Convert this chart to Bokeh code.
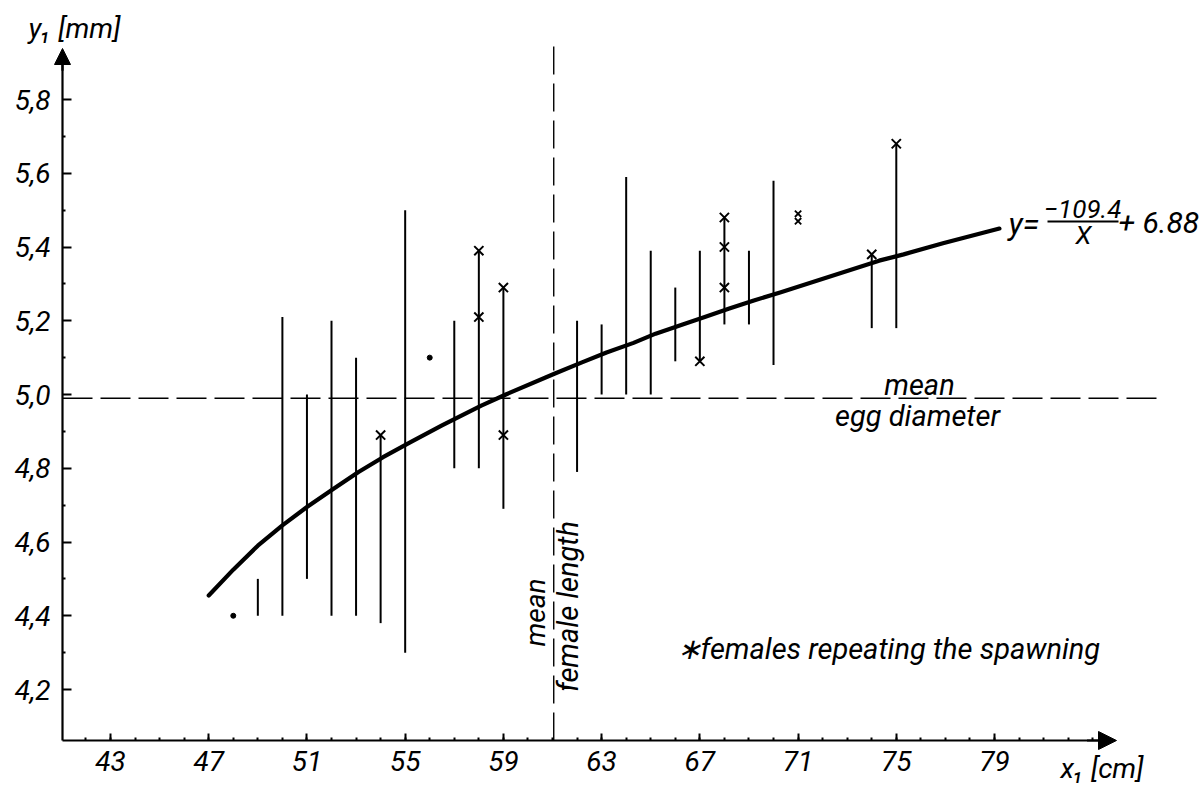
import numpy as np
from bokeh.plotting import figure
from bokeh.models import FixedTicker, Arrow, NormalHead, Label
from bokeh.embed import file_html
from bokeh.resources import INLINE

# ---------------- data ----------------
# vertical ranges of egg diameter for each female length class
range_x = [49, 50, 51, 52, 53, 54, 55, 57, 58, 59, 62, 63, 64, 65, 66, 67, 68, 69, 70, 74, 75]
range_low = [4.40, 4.40, 4.50, 4.40, 4.40, 4.38, 4.30, 4.80, 4.80, 4.69, 4.79,
             5.00, 5.00, 5.00, 5.09, 5.09, 5.19, 5.19, 5.08, 5.18, 5.18]
range_high = [4.50, 5.21, 5.00, 5.20, 5.10, 4.89, 5.50, 5.20, 5.39, 5.29, 5.20,
              5.19, 5.59, 5.39, 5.29, 5.39, 5.48, 5.39, 5.58, 5.38, 5.68]

# females repeating the spawning (x marks)
repeat_x = [54, 58, 58, 59, 59, 67, 68, 68, 68, 74, 75]
repeat_y = [4.89, 5.39, 5.21, 5.29, 4.89, 5.09, 5.48, 5.40, 5.29, 5.38, 5.68]
repeat_small_x = [71, 71]
repeat_small_y = [5.49, 5.47]

# single observations (dots)
single_x = [48, 56]
single_y = [4.40, 5.10]

# fitted curve y = -109.4/x + 6.88 as drawn
curve_x = [47.0, 48.0, 49.0, 50.0, 51.0, 52.1, 53.1, 54.1, 55.2, 56.5, 58.1, 59.1, 61.1,
           62.2, 63.2, 64.3, 65.2, 66.3, 67.2, 68.2, 69.2, 70.3, 74.3, 75.3, 76.9, 79.2]
curve_y = [4.455, 4.525, 4.59, 4.645, 4.695, 4.745, 4.79, 4.83, 4.87, 4.916, 4.97, 5.00, 5.057,
           5.087, 5.114, 5.14, 5.165, 5.19, 5.21, 5.233, 5.255, 5.277, 5.363, 5.38, 5.41, 5.45]

mean_egg_diameter = 4.99
mean_female_length = 61.05

x_ticks = [43, 47, 51, 55, 59, 63, 67, 71, 75, 79]
x_minor = list(range(42, 84))
y_ticks = [4.2, 4.4, 4.6, 4.8, 5.0, 5.2, 5.4, 5.6, 5.8]
y_tick_labels = ["4,2", "4,4", "4,6", "4,8", "5,0", "5,2", "5,4", "5,6", "5,8"]
y_minor = [4.3, 4.5, 4.7, 4.9, 5.1, 5.3, 5.5, 5.7]

# ---------------- figure ----------------
FONT = "Roboto"
W, H = 1202, 790


def px_x(px):
    return 43 + (px - 110) / 24.556


def px_y(py):
    return 5.8 - (py - 99) / 368.75


X0, X1 = px_x(0), px_x(W)
Y0, Y1 = px_y(H), px_y(0)
AX_X = px_x(62)      # y axis position
AX_Y = px_y(740)     # x axis position
X_AXIS_END = px_x(1116)
Y_AXIS_END = px_y(48)

p = figure(width=W, height=H, x_range=(X0, X1), y_range=(Y0, Y1),
           output_backend="svg", toolbar_location=None, title=None,
           min_border=0, min_border_left=0, min_border_right=0,
           min_border_top=0, min_border_bottom=0)
p.outline_line_color = None
p.grid.visible = False
p.background_fill_color = "white"
p.border_fill_color = "white"

for ax in (p.xaxis[0], p.yaxis[0]):
    ax.axis_line_width = 2.2
    ax.axis_line_color = "black"
    ax.major_tick_line_width = 2
    ax.major_tick_line_color = "black"
    ax.minor_tick_line_width = 2
    ax.minor_tick_line_color = "black"
    ax.major_tick_out = 0
    ax.minor_tick_out = 0
    ax.major_label_text_font = FONT
    ax.major_label_text_font_style = "italic"
    ax.major_label_text_font_size = "28px"
    ax.major_label_text_color = "black"

p.xaxis.fixed_location = AX_Y
p.xaxis.ticker = FixedTicker(ticks=x_ticks, minor_ticks=x_minor)
p.xaxis.bounds = (AX_X, X_AXIS_END - 0.6)
p.xaxis.major_tick_in = 7
p.xaxis.minor_tick_in = 3
p.xaxis.major_label_standoff = 10

p.yaxis.fixed_location = AX_X
p.yaxis.ticker = FixedTicker(ticks=y_ticks, minor_ticks=y_minor)
p.yaxis.bounds = (AX_Y, Y_AXIS_END - 0.04)
p.yaxis.major_tick_in = 9
p.yaxis.minor_tick_in = 3
p.yaxis.major_label_standoff = 12
p.yaxis.major_label_overrides = dict(zip(y_ticks, y_tick_labels))

# axis arrow heads
p.add_layout(Arrow(end=NormalHead(size=16, fill_color="black", line_color="black", line_width=1),
                   x_start=AX_X, y_start=Y_AXIS_END - 0.06, x_end=AX_X, y_end=Y_AXIS_END,
                   line_width=2.2, line_color="black"))
p.add_layout(Arrow(end=NormalHead(size=18, fill_color="black", line_color="black", line_width=1),
                   x_start=X_AXIS_END - 1.2, y_start=AX_Y, x_end=X_AXIS_END, y_end=AX_Y,
                   line_width=2.2, line_color="black"))

# mean lines
p.line([AX_X, px_x(1162)], [mean_egg_diameter, mean_egg_diameter], line_color="black",
       line_width=1.4, line_dash="30 8")
p.line([mean_female_length, mean_female_length], [AX_Y, px_y(38)], line_color="black",
       line_width=1.4, line_dash="28 9")

# ranges
p.segment(x0=range_x, y0=range_low, x1=range_x, y1=range_high, line_color="black", line_width=2)

# fitted curve
p.line(curve_x, curve_y, line_color="black", line_width=4.2, line_cap="round", line_join="round")

# markers
p.scatter(repeat_x, repeat_y, marker="x", size=13, line_color="black", line_width=2)
p.scatter(repeat_small_x, repeat_small_y, marker="x", size=9, line_color="black", line_width=1.8)
p.scatter(single_x, single_y, marker="circle", size=5, fill_color="black", line_color="black")


def label(text, x, y, size="28px", align="left", baseline="middle", angle=0.0):
    p.add_layout(Label(x=px_x(x), y=px_y(y), text=text, text_font=FONT,
                       text_font_style="italic", text_font_size=size, text_color="black",
                       text_align=align, text_baseline=baseline, angle=angle))


# axis titles
label("y\u2081 [mm]", 28, 28, size="28px")
label("x\u2081 [cm]", 1060, 768, size="28px")

# mean egg diameter annotation
label("mean", 919, 384, size="29px", align="center")
label("egg diameter", 917, 415, size="29px", align="center")

# mean female length annotation (rotated)
label("mean", 535, 612, size="28px", align="center", angle=np.pi / 2)
label("female length", 567, 606, size="29px", align="center", angle=np.pi / 2)

# legend text
label("\u2217females repeating the spawning", 676, 648, size="29px")

# equation
label("y=", 1008, 224, size="31px")
label("\u2212109.4", 1082, 208, size="26px", align="center")
label("X", 1083, 234, size="26px", align="center")
label("+ 6.88", 1118, 222, size="30px")
p.line([px_x(1047), px_x(1118)], [px_y(221), px_y(221)], line_color="black", line_width=2)

open("out.html", "w").write(file_html(p, INLINE))
